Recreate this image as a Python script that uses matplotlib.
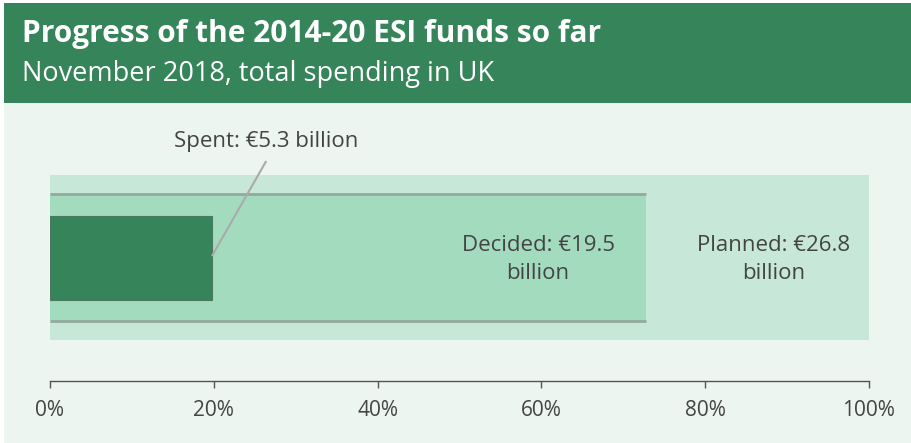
import matplotlib
matplotlib.use("Agg")
import matplotlib.pyplot as plt
from matplotlib.patches import Rectangle

# ---- data ----
categories = ["Spent", "Decided", "Planned"]
values_bn = [5.3, 19.5, 26.8]
tick_values = [0, 20, 40, 60, 80, 100]
tick_labels = ["0%", "20%", "40%", "60%", "80%", "100%"]
title = "Progress of the 2014-20 ESI funds so far"
subtitle = "November 2018, total spending in UK"

plt.rcParams['font.family'] = ['Open Sans', 'DejaVu Sans']

W, H = 911, 443
DPI = 100
fig = plt.figure(figsize=(W / DPI, H / DPI), dpi=DPI)
fig.patch.set_facecolor("white")

def fx(px):
    return px / W

def fy(py):
    return 1 - py / H

# background card and header
fig.add_artist(Rectangle((fx(4), 0), 1 - fx(4), fy(103), transform=fig.transFigure,
                         facecolor="#ecf5f0", edgecolor="none", zorder=-10))
fig.add_artist(Rectangle((fx(4), fy(103)), 1 - fx(4), fy(3) - fy(103), transform=fig.transFigure,
                         facecolor="#35845a", edgecolor="none", zorder=-10))
fig.text(fx(22), fy(34), title, color="white", fontsize=21.5, fontweight="bold",
         ha="left", va="center")
fig.text(fx(22), fy(74), subtitle, color="white", fontsize=19.5,
         ha="left", va="center")

# axes: x 0..100 maps px 50..869, y in pixel units centered on bars
ax_left, ax_right = 50, 869
ax_top, ax_bottom = 110, 381
center = 257.5
ax = fig.add_axes([fx(ax_left), fy(ax_bottom), fx(ax_right - ax_left), fy(ax_top) - fy(ax_bottom)])
ax.set_zorder(1)
ax.set_facecolor("none")
ax.set_xlim(0, 100)
ax.set_ylim(-(ax_bottom - center), center - ax_top)

planned = values_bn[2]
pcts = [v / planned * 100 for v in values_bn]

# planned
ax.barh(0, pcts[2], height=165, left=0, color="#c7e8d8", zorder=1)
# decided
ax.barh(0, pcts[1], height=127, left=0, color="#a3dbbf", zorder=2)
ax.hlines([63.5, -63.5], 0, pcts[1], color="#93aa9c", linewidth=2, zorder=3)
# spent
ax.barh(0, pcts[0], height=84, left=0, color="#35845a", edgecolor="#4d7a5e",
        linewidth=0.8, zorder=4)

txt = "#444444"
# spent label with leader line
lx, ly = 26.4, 96.5
ax.plot([pcts[0], lx], [1.5, ly], color="#aaaaaa", linewidth=1.5, zorder=5,
        solid_capstyle="butt")
ax.text(26.4, 116.5, f"{categories[0]}: €{values_bn[0]} billion", color=txt,
        fontsize=16, ha="center", va="center")
ax.text(59.6, -2.0, f"{categories[1]}: €{values_bn[1]}\nbillion", color=txt,
        fontsize=16, ha="center", va="center", linespacing=1.4, zorder=6)
ax.text(88.4, -2.0, f"{categories[2]}: €{values_bn[2]}\nbillion", color=txt,
        fontsize=16, ha="center", va="center", linespacing=1.4, zorder=6)

for s in ["top", "left", "right"]:
    ax.spines[s].set_visible(False)
ax.spines["bottom"].set_color("#555555")
ax.spines["bottom"].set_linewidth(1)
ax.set_yticks([])
ax.set_xticks(tick_values)
ax.set_xticklabels(tick_labels)
ax.tick_params(axis="x", direction="out", length=5, width=1, color="#555555",
               labelcolor=txt, labelsize=15, pad=9)

fig.savefig("out.png", dpi=DPI, facecolor=fig.get_facecolor())
